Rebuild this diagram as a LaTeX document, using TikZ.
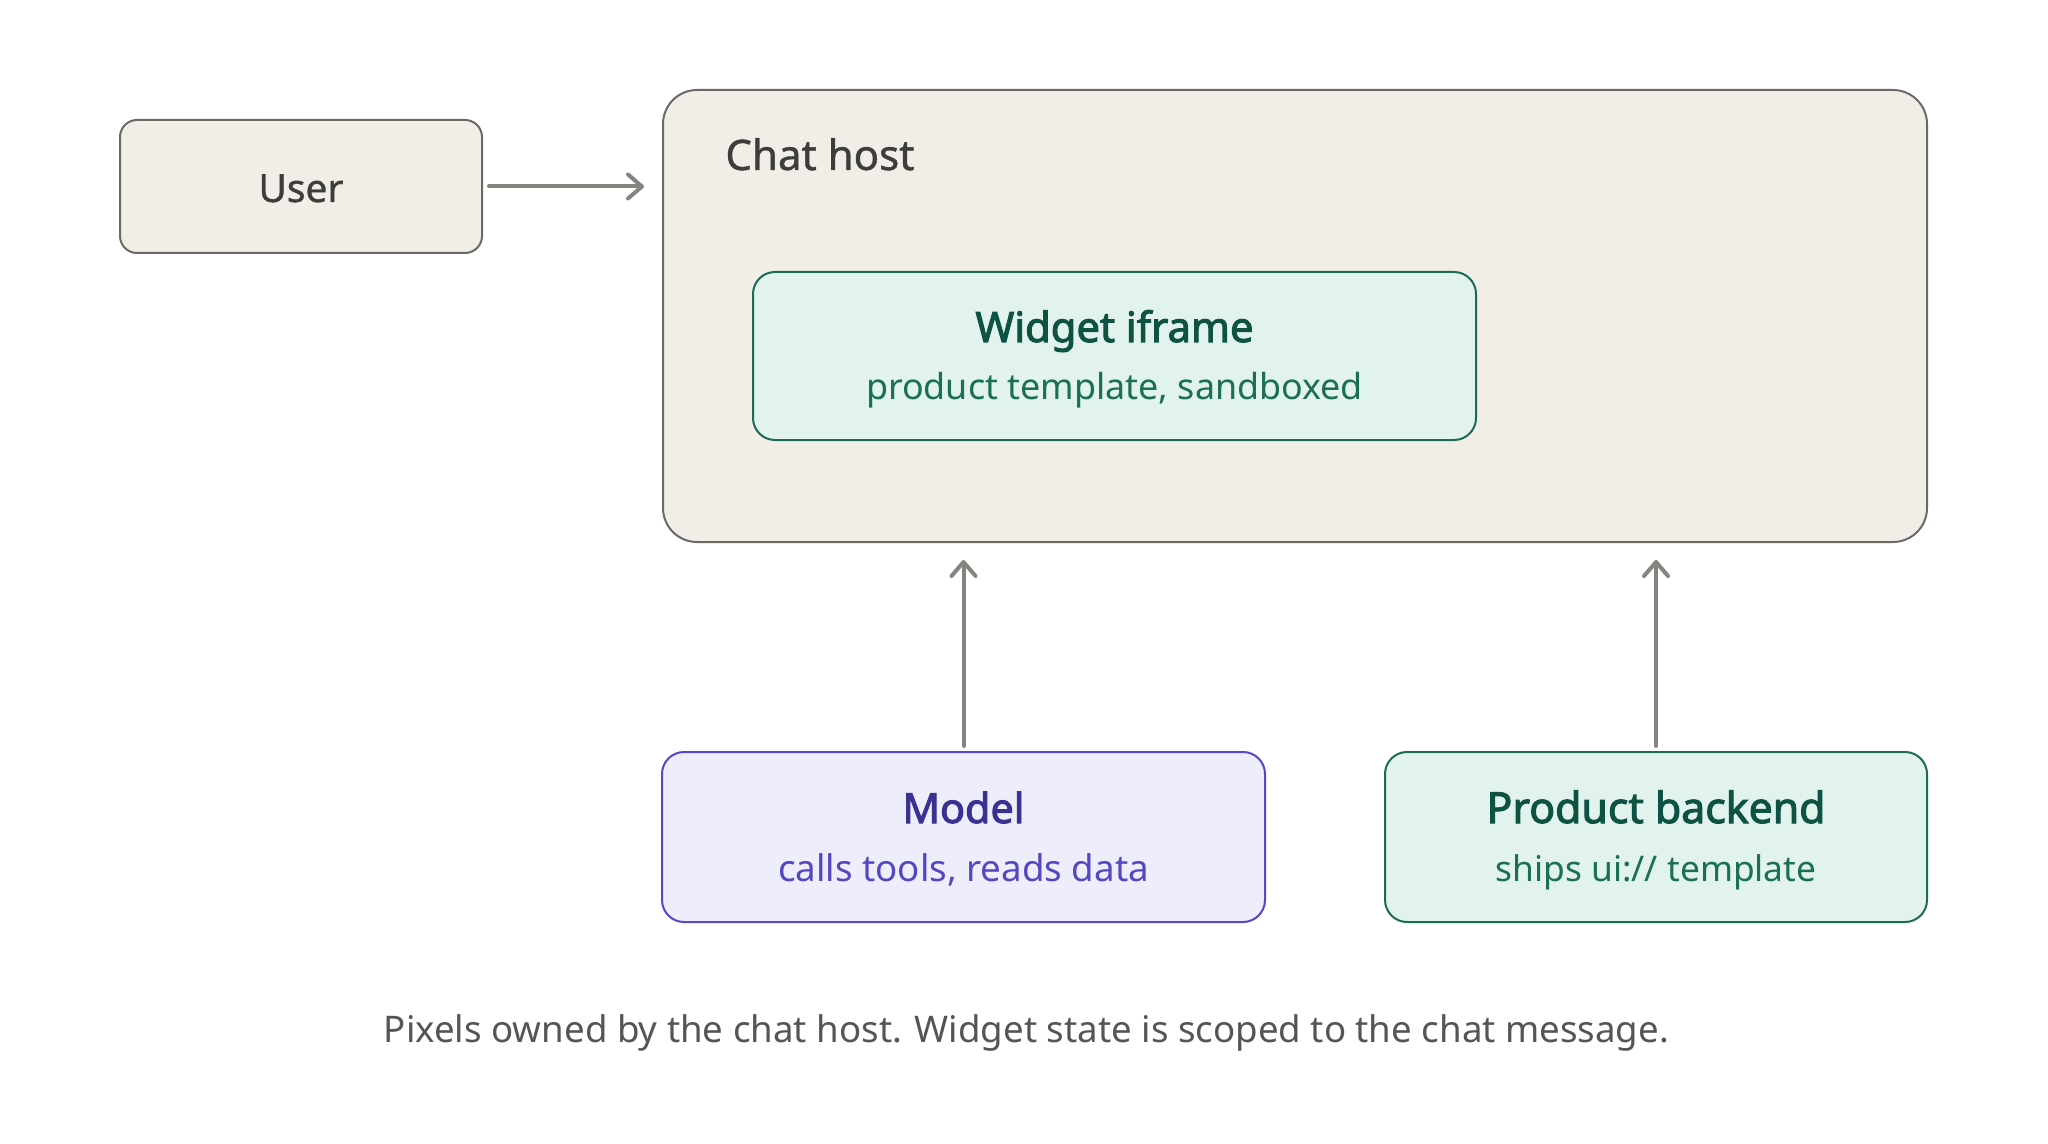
\documentclass[tikz,border=0pt]{standalone}
\usepackage{fontspec}
\setmainfont{Noto Sans}
\newfontfamily\titlefont{Noto Sans}[FakeBold=2.4]
\newfontfamily\medfont{Noto Sans}[FakeBold=1]
\usepackage{graphicx}
\usetikzlibrary{arrows.meta}
\definecolor{beigefill}{HTML}{F1EEE8}
\definecolor{beigeline}{HTML}{6B6A65}
\definecolor{darktext}{HTML}{3D3D3A}
\definecolor{greenfill}{HTML}{E1F3EC}
\definecolor{greenline}{HTML}{1D6B55}
\definecolor{greentitle}{HTML}{0D5242}
\definecolor{greensub}{HTML}{1B6F55}
\definecolor{violetfill}{HTML}{EDEDFB}
\definecolor{violetline}{HTML}{5548C8}
\definecolor{violettitle}{HTML}{3A3290}
\definecolor{violetsub}{HTML}{5547C0}
\definecolor{arrowgray}{HTML}{858580}
\definecolor{captiongray}{HTML}{555553}
\newcommand\fitw[2]{\resizebox{#1}{!}{#2}}
\begin{document}
\begin{tikzpicture}[x=0.5pt,y=-0.5pt,
  panel/.style={draw, line width=1pt, inner sep=0pt, rounded corners=11pt},
  beigebox/.style={panel, fill=beigefill, draw=beigeline},
  greenbox/.style={panel, fill=greenfill, draw=greenline},
  violetbox/.style={panel, fill=violetfill, draw=violetline},
  lbl/.style={anchor=base, inner sep=0pt},
  arr/.style={draw=arrowgray, line width=2pt, line cap=round,
    -{Straight Barb[length=7pt,width=12pt,line cap=round,line join=round]}}
]
\useasboundingbox (0,0) rectangle (2048,1144);
\fill[white] (0,0) rectangle (2048,1144);

% boxes
\node[beigebox, rounded corners=8.5pt, minimum width=181pt, minimum height=66.5pt] (user) at (301,186.5) {};
\node[beigebox, rounded corners=17pt, minimum width=632pt, minimum height=226pt] (host) at (1295,316) {};
\node[greenbox, minimum width=361.5pt, minimum height=84pt] (widget) at (1114.5,356) {};
\node[violetbox, minimum width=301.5pt, minimum height=85pt] (model) at (963.5,837) {};
\node[greenbox, minimum width=271pt, minimum height=85pt] (backend) at (1656,837) {};

% labels
\node[lbl, text=darktext] (usert) at (301,202) {\fitw{42.5pt}{\medfont User}};
\node[lbl, anchor=base west, text=darktext] (hostt) at (725,170) {\fitw{94.5pt}{\medfont Chat host}};
\node[lbl, text=greentitle] (widgett) at (1114.5,342) {\fitw{139pt}{\titlefont Widget iframe}};
\node[lbl, text=greensub] (widgets) at (1114.5,399) {\fitw{248.5pt}{product template, sandboxed}};
\node[lbl, text=violettitle] (modelt) at (963.5,823) {\fitw{61pt}{\titlefont Model}};
\node[lbl, text=violetsub] (models) at (963.5,881) {\fitw{185.5pt}{calls tools, reads data}};
\node[lbl, text=greentitle] (backendt) at (1656,823) {\fitw{169.5pt}{\titlefont Product backend}};
\node[lbl, text=greensub] (backends) at (1656,881) {\fitw{160.5pt}{ships ui:// template}};
\node[lbl, text=captiongray] (caption) at (1026.5,1042) {\fitw{642.5pt}{Pixels owned by the chat host. Widget state is scoped to the chat message.}};

% connectors
\draw[arr] ([xshift=3pt]user.east) -- ([xshift=-9pt]user.east -| host.west);
\draw[arr] ([yshift=2.5pt]model.north) -- ([yshift=-8.5pt]model.north |- host.south);
\draw[arr] ([yshift=2.5pt]backend.north) -- ([yshift=-8.5pt]backend.north |- host.south);
\end{tikzpicture}
\end{document}
